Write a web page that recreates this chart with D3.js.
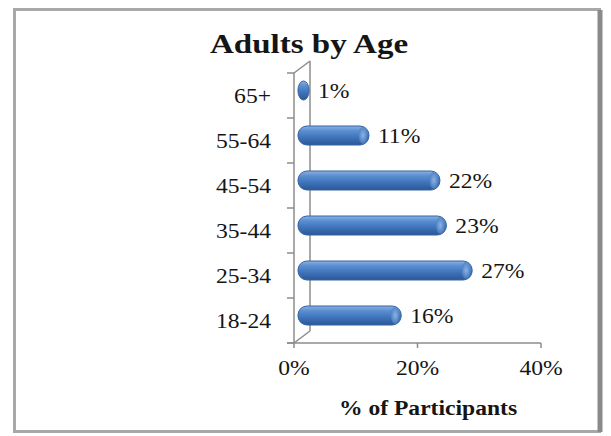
<!DOCTYPE html>
<html><head><meta charset="utf-8">
<script src="https://cdn.jsdelivr.net/npm/d3@7"></script>
<style>body{margin:0;background:#fff}svg{display:block}</style>
</head><body>
<svg id="c" width="611" height="436"></svg>
<script>
const categories = ["18-24","25-34","35-44","45-54","55-64","65+"];
const values = [16,27,23,22,11,1];
const xTicks = [0,20,40];
const title = "Adults by Age";
const xTitle = "% of Participants";

const svg = d3.select("#c");
const SX = 1.18; // horizontal stretch of text in the reference
const font = "'Liberation Serif','Times New Roman',serif";

// frame
svg.append("rect").attr("x",14.5).attr("y",9.5).attr("width",585).attr("height",422)
  .attr("fill","#fff").attr("stroke","#a8a8a8").attr("stroke-width",3);
svg.append("line").attr("x1",600).attr("x2",600).attr("y1",10).attr("y2",432)
  .attr("stroke","#8a8a8a").attr("stroke-width",5);

const x = d3.scaleLinear().domain([0,40]).range([294,541]);
const y = d3.scaleBand().domain(categories.slice().reverse()).range([73,343]);
const DX = 16, DY = -12;
const xb = d3.scaleLinear().domain([0,40]).range([x(0)+4, x(40)+15]);

function txt(g, s, px, py, size, weight, anchor){
  return g.append("text").attr("transform",`translate(${px},${py}) scale(${SX},1)`)
    .attr("text-anchor",anchor).attr("font-family",font).attr("font-size",size)
    .attr("font-weight",weight).attr("fill","#151515").text(s);
}

// title
txt(svg, title, 309, 53, 28, "bold", "middle");

// wall
const wall = svg.append("g").attr("stroke","#8c8c8c").attr("fill","none").attr("stroke-width",1.5);
wall.append("line").attr("x1",x(0)).attr("x2",x(0)).attr("y1",73).attr("y2",343);
wall.append("line").attr("x1",x(0)+DX).attr("x2",x(0)+DX).attr("y1",73+DY).attr("y2",343+DY);
wall.append("line").attr("x1",x(0)).attr("x2",x(0)+DX).attr("y1",73).attr("y2",73+DY);
wall.append("line").attr("x1",x(0)).attr("x2",x(0)+DX).attr("y1",343).attr("y2",343+DY);
// category ticks
const bounds = y.domain().map(c=>y(c)).concat([343]);
wall.selectAll(".ct").data(bounds).join("line")
  .attr("x1",x(0)-7).attr("x2",x(0)).attr("y1",d=>d).attr("y2",d=>d);
// x axis
wall.append("line").attr("x1",x(0)-7).attr("x2",x(40)).attr("y1",343).attr("y2",343);
wall.selectAll(".xt").data(xTicks).join("line")
  .attr("x1",d=>x(d)).attr("x2",d=>x(d)).attr("y1",343).attr("y2",348);

// gradient
const defs = svg.append("defs");
const gr = defs.append("linearGradient").attr("id","bg").attr("x1",0).attr("y1",0).attr("x2",0).attr("y2",1);
[[0,"#8db1e2"],[0.25,"#5b8fd2"],[0.6,"#3f74bb"],[1,"#2b5796"]].forEach(s=>
  gr.append("stop").attr("offset",s[0]).attr("stop-color",s[1]));
const gr2 = defs.append("radialGradient").attr("id","cap");
[[0,"#9fc0ea"],[1,"#4a7ec2"]].forEach(s=>gr2.append("stop").attr("offset",s[0]).attr("stop-color",s[1]));

const bh = 19, shift = -5;
const bars = svg.append("g");
categories.forEach((c,i)=>{
  const cy = y(c)+y.bandwidth()/2+shift;
  const x0 = xb(0), x1 = Math.max(xb(values[i]), x0+11);
  bars.append("rect").attr("x",x0).attr("y",cy-bh/2).attr("width",x1-x0).attr("height",bh)
    .attr("rx",Math.min(9,(x1-x0)/2)).attr("ry",9).attr("fill","url(#bg)")
    .attr("stroke","#34629f").attr("stroke-width",1);
  if (x1-x0>20) bars.append("ellipse").attr("cx",x1-6).attr("cy",cy).attr("rx",4.5).attr("ry",8.5)
    .attr("fill","url(#cap)").attr("opacity",0.8);
  txt(svg, values[i]+"%", x1+9, cy+7, 20, "normal", "start");
  txt(svg, c, 271, y(c)+y.bandwidth()/2+7, 20, "normal", "end");
});

xTicks.forEach(t=>txt(svg, t+"%", x(t), 375, 20, "normal", "middle"));
txt(svg, xTitle, 428, 415, 20, "bold", "middle");
</script>
</body></html>
